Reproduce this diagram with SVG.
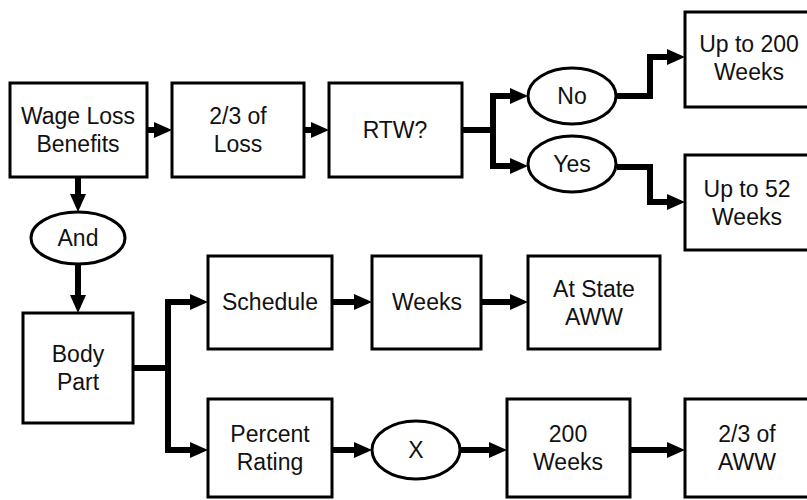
<svg xmlns="http://www.w3.org/2000/svg" width="807" height="500" viewBox="0 0 807 500">
<style>
  .box { fill: #ffffff; stroke: #000000; stroke-width: 3; }
  .oval { fill: #ffffff; stroke: #000000; stroke-width: 3; }
  .lbl { font-family: "Liberation Sans", Arial, sans-serif; font-size: 23px; fill: #111111; text-anchor: middle; }
  .conn { fill: none; stroke: #000000; stroke-width: 6; stroke-linejoin: miter; }
</style>
<defs>
  <marker id="ah" markerUnits="userSpaceOnUse" markerWidth="18" markerHeight="16" refX="8" refY="8" orient="auto">
    <path d="M0,0 L18,8 L0,16 z" fill="#000000"/>
  </marker>
</defs>
<rect width="807" height="500" fill="#ffffff"/>

<g id="connectors">
  <path class="conn" d="M147,130 L162,130" marker-end="url(#ah)"/>
  <path class="conn" d="M304,130 L319,130" marker-end="url(#ah)"/>
  <path class="conn" d="M462,130 L493,130"/>
  <path class="conn" d="M493,96 L493,166"/>
  <path class="conn" d="M490,96 L518,96" marker-end="url(#ah)"/>
  <path class="conn" d="M490,166 L518,166" marker-end="url(#ah)"/>
  <path class="conn" d="M617,96 L650,96 L650,57 L675,57" marker-end="url(#ah)"/>
  <path class="conn" d="M617,167 L650,167 L650,202 L675,202" marker-end="url(#ah)"/>
  <path class="conn" d="M78,177 L78,202" marker-end="url(#ah)"/>
  <path class="conn" d="M78,264 L78,303" marker-end="url(#ah)"/>
  <path class="conn" d="M133,368 L168,368"/>
  <path class="conn" d="M168,302 L168,450"/>
  <path class="conn" d="M165,302 L198,302" marker-end="url(#ah)"/>
  <path class="conn" d="M165,450 L198,450" marker-end="url(#ah)"/>
  <path class="conn" d="M332,302 L362,302" marker-end="url(#ah)"/>
  <path class="conn" d="M481,302 L518,302" marker-end="url(#ah)"/>
  <path class="conn" d="M332,450 L362,450" marker-end="url(#ah)"/>
  <path class="conn" d="M460,450 L497,450" marker-end="url(#ah)"/>
  <path class="conn" d="M630,450 L675,450" marker-end="url(#ah)"/>
</g>

<g id="wage-loss">
  <rect class="box" x="10" y="83" width="137" height="94"/>
  <text class="lbl" x="78" y="124">Wage Loss</text>
  <text class="lbl" x="78" y="152">Benefits</text>
</g>
<g id="two-thirds-loss">
  <rect class="box" x="172" y="83" width="132" height="94"/>
  <text class="lbl" x="238" y="124">2/3 of</text>
  <text class="lbl" x="238" y="152">Loss</text>
</g>
<g id="rtw">
  <rect class="box" x="329" y="83" width="133" height="94"/>
  <text class="lbl" x="395" y="138">RTW?</text>
</g>
<g id="no">
  <ellipse class="oval" cx="572" cy="96" rx="44" ry="28"/>
  <text class="lbl" x="572" y="104">No</text>
</g>
<g id="yes">
  <ellipse class="oval" cx="572" cy="164" rx="44" ry="28"/>
  <text class="lbl" x="572" y="172">Yes</text>
</g>
<g id="up-to-200">
  <rect class="box" x="685" y="12" width="130" height="95"/>
  <text class="lbl" x="749" y="52">Up to 200</text>
  <text class="lbl" x="749" y="80">Weeks</text>
</g>
<g id="up-to-52">
  <rect class="box" x="685" y="155" width="130" height="95"/>
  <text class="lbl" x="747" y="197">Up to 52</text>
  <text class="lbl" x="747" y="225">Weeks</text>
</g>
<g id="and">
  <ellipse class="oval" cx="78" cy="238" rx="47" ry="26"/>
  <text class="lbl" x="78" y="246">And</text>
</g>
<g id="body-part">
  <rect class="box" x="23" y="313" width="110" height="110"/>
  <text class="lbl" x="78" y="362">Body</text>
  <text class="lbl" x="78" y="390">Part</text>
</g>
<g id="schedule">
  <rect class="box" x="208" y="256" width="124" height="93"/>
  <text class="lbl" x="270" y="310">Schedule</text>
</g>
<g id="weeks">
  <rect class="box" x="372" y="256" width="109" height="93"/>
  <text class="lbl" x="427" y="310">Weeks</text>
</g>
<g id="at-state-aww">
  <rect class="box" x="528" y="256" width="132" height="93"/>
  <text class="lbl" x="594" y="297">At State</text>
  <text class="lbl" x="594" y="325">AWW</text>
</g>
<g id="percent-rating">
  <rect class="box" x="208" y="399" width="124" height="98"/>
  <text class="lbl" x="270" y="442">Percent</text>
  <text class="lbl" x="270" y="470">Rating</text>
</g>
<g id="x-op">
  <ellipse class="oval" cx="416" cy="450" rx="44" ry="29"/>
  <text class="lbl" x="416" y="458">X</text>
</g>
<g id="two-hundred-weeks">
  <rect class="box" x="507" y="399" width="123" height="98"/>
  <text class="lbl" x="568" y="442">200</text>
  <text class="lbl" x="568" y="470">Weeks</text>
</g>
<g id="two-thirds-aww">
  <rect class="box" x="685" y="399" width="130" height="98"/>
  <text class="lbl" x="747" y="442">2/3 of</text>
  <text class="lbl" x="747" y="470">AWW</text>
</g>
</svg>
